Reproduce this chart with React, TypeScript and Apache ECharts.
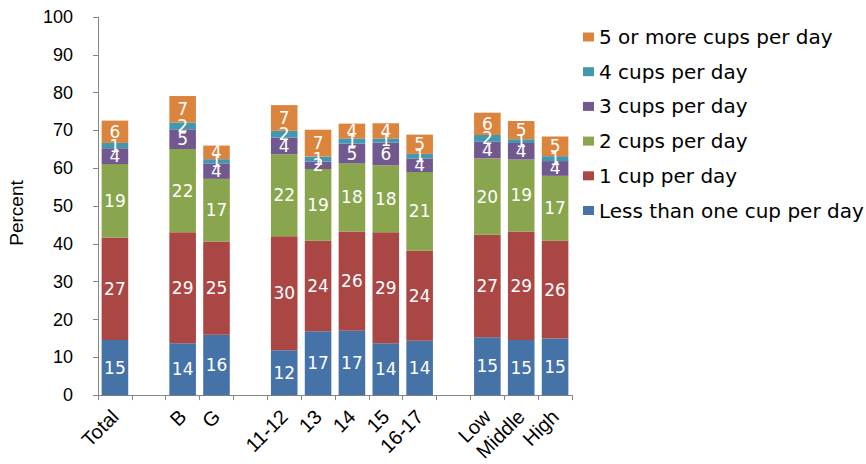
import React, { useEffect, useRef } from "react";
import * as echarts from "echarts";

const categories = ["Total", "", "B", "G", "", "11-12", "13", "14", "15", "16-17", "", "Low", "Middle", "High"];

const lessThanOne = [14.6, null, 13.7, 16.0, null, 11.9, 16.9, 17.0, 13.7, 14.4, null, 15.3, 14.6, 15.0];
const oneCup = [27.1, null, 29.4, 24.6, null, 30.1, 23.9, 26.3, 29.4, 23.8, null, 27.1, 28.7, 25.8];
const twoCups = [19.4, null, 22.0, 16.6, null, 21.7, 19.0, 18.0, 17.7, 20.8, null, 20.2, 19.0, 17.2];
const threeCups = [4.2, null, 5.2, 4.1, null, 4.4, 2.0, 5.2, 6.0, 3.6, null, 4.4, 4.4, 3.9];
const fourCups = [1.4, null, 1.8, 1.1, null, 1.8, 1.3, 1.4, 1.1, 1.2, null, 1.8, 1.0, 1.3];
const fivePlus = [5.9, null, 7.0, 3.6, null, 6.8, 7.1, 3.9, 4.0, 5.1, null, 5.9, 4.8, 5.2];

const seriesNames = [
  "Less than one cup per day",
  "1 cup per day",
  "2 cups per day",
  "3 cups per day",
  "4 cups per day",
  "5 or more cups per day",
];
const seriesData = [lessThanOne, oneCup, twoCups, threeCups, fourCups, fivePlus];
const seriesColors = ["#4572A7", "#AA4643", "#89A54E", "#71588F", "#4198AF", "#DB843D"];

export default function App() {
  const ref = useRef<HTMLDivElement>(null);
  useEffect(() => {
    if (!ref.current) return;
    const chart = echarts.init(ref.current, null, { renderer: "svg" });
    chart.setOption({
      animation: false,
      backgroundColor: "#ffffff",
      grid: { left: 98, right: 294, top: 17, bottom: 67, containLabel: false },
      legend: {
        orient: "vertical",
        left: 583,
        top: 27,
        padding: 0,
        itemWidth: 11,
        itemHeight: 9,
        itemGap: 14.7,
        icon: "rect",
        data: seriesNames.slice().reverse(),
        textStyle: { fontFamily: "DejaVu Sans", fontSize: 20, color: "#000", lineHeight: 20, padding: [0, 0, 0, 0] },
      },
      xAxis: {
        type: "category",
        data: categories,
        axisLine: { lineStyle: { color: "#868686" } },
        axisTick: { show: true, interval: 0, length: 5, lineStyle: { color: "#868686" } },
        axisLabel: {
          interval: 0,
          rotate: 45,
          margin: 18,
          fontFamily: "Liberation Sans",
          fontSize: 20,
          color: "#000",
        },
      },
      yAxis: {
        type: "value",
        min: 0,
        max: 100,
        interval: 10,
        splitLine: { show: false },
        axisLine: { show: true, lineStyle: { color: "#868686" } },
        axisTick: { show: true, length: 5, lineStyle: { color: "#868686" } },
        axisLabel: { margin: 25, fontFamily: "Liberation Sans", fontSize: 18, color: "#000" },
      },
      graphic: [
        {
          type: "text",
          x: 16,
          y: 213,
          rotation: Math.PI / 2,
          style: {
            text: "Percent",
            fontFamily: "Liberation Sans",
            fontSize: 19,
            fill: "#000",
            textAlign: "center",
            textVerticalAlign: "middle",
          },
        },
      ],
      series: seriesNames.map((name, i) => ({
        name,
        type: "bar",
        stack: "total",
        barCategoryGap: "21.5%",
        data: seriesData[i],
        itemStyle: { color: seriesColors[i] },
        label: {
          show: true,
          position: "inside",
          color: "#fff",
          fontFamily: "DejaVu Sans",
          fontSize: 17,
          formatter: (p: any) => (p.value == null ? "" : String(Math.round(p.value))),
        },
      })),
    });
    return () => chart.dispose();
  }, []);
  return (
    <div
      ref={ref}
      style={{ position: "absolute", left: 0, top: 0, width: 866, height: 464 }}
    />
  );
}
